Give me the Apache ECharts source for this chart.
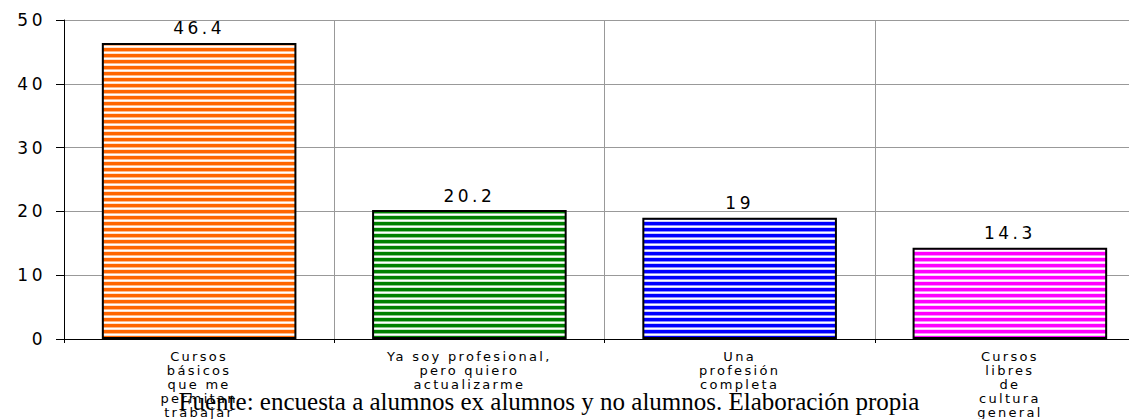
<!DOCTYPE html>
<html>
<head>
<meta charset="utf-8">
<script src="https://cdn.jsdelivr.net/npm/echarts@6/dist/echarts.min.js"></script>
<style>
  html, body { margin: 0; padding: 0; background: #ffffff; }
  #chart { width: 1129px; height: 419px; }
  /* widen the axis and value labels a little */
  #chart text[style*="17px"] { letter-spacing: 3.5px; }
  #chart text[style*="13px"] { letter-spacing: 2.3px; }
</style>
</head>
<body>
<div id="chart"></div>
<script>
// Motivos de inscripción (%)
const categories = [
  'Cursos\nbásicos\nque me\npermitan\ntrabajar',
  'Ya soy profesional,\npero quiero\nactualizarme',
  'Una\nprofesión\ncompleta',
  'Cursos\nlibres\nde\ncultura\ngeneral'
];
const values = [46.4, 20.2, 19, 14.3];
const barColors = ['#ff6600', '#008000', '#0000ff', '#ff00ff'];
const footnote = 'Fuente: encuesta a alumnos ex alumnos y no alumnos. Elaboración propia';

// Horizontal stripe fill: solid band, soft tint, white gap
function stripes(color) {
  const c = document.createElement('canvas');
  c.width = 8; c.height = 6;
  const ctx = c.getContext('2d');
  ctx.fillStyle = '#ffffff';
  ctx.fillRect(0, 0, 8, 6);
  ctx.fillStyle = color;
  ctx.fillRect(0, 0, 8, 3);
  ctx.globalAlpha = 0.45;
  ctx.fillRect(0, 3, 8, 1);
  ctx.globalAlpha = 0.2;
  ctx.fillRect(0, 5, 8, 1);
  return { image: c, repeat: 'repeat', imageWidth: 8, imageHeight: 6 };
}

const chart = echarts.init(document.getElementById('chart'), null, { renderer: 'svg' });

chart.setOption({
  backgroundColor: '#ffffff',
  animation: false,
  // plot area runs a little past the right edge of the page
  grid: {
    left: 64, top: 20, width: 1081, height: 319,
    containLabel: false,
    outerBoundsMode: 'none'
  },
  xAxis: {
    type: 'category',
    data: categories,
    boundaryGap: true,
    axisLine: { show: true, lineStyle: { color: '#000000', width: 1 } },
    axisTick: { show: true, length: 4, lineStyle: { color: '#000000' } },
    splitLine: { show: true, lineStyle: { color: '#999999', width: 1 } },
    axisLabel: {
      interval: 0,
      margin: 10,
      color: '#000000',
      fontFamily: 'DejaVu Sans',
      fontSize: 13,
      lineHeight: 14,
      align: 'center'
    }
  },
  yAxis: {
    type: 'value',
    min: 0,
    max: 50,
    interval: 10,
    axisLine: { show: true, lineStyle: { color: '#000000', width: 1 } },
    axisTick: { show: true, inside: false, length: 8, lineStyle: { color: '#000000' } },
    splitLine: { show: true, lineStyle: { color: '#999999', width: 1 } },
    axisLabel: {
      margin: 18,
      color: '#000000',
      fontFamily: 'DejaVu Sans',
      fontSize: 17
    }
  },
  series: [{
    type: 'bar',
    barWidth: '72%',
    data: values.map((v, i) => ({
      value: v,
      itemStyle: { color: stripes(barColors[i]) }
    })),
    itemStyle: { borderColor: '#000000', borderWidth: 2 },
    label: {
      show: true,
      position: 'top',
      distance: 6,
      color: '#000000',
      fontFamily: 'DejaVu Sans',
      fontSize: 17
    }
  }],
  graphic: [{
    type: 'text',
    x: 549,
    y: 401,
    style: {
      text: footnote,
      fill: '#000000',
      font: '25px "Liberation Serif"',
      lineHeight: 15,
      textAlign: 'center',
      textVerticalAlign: 'middle'
    },
    z: 100
  }]
});
</script>
</body>
</html>
